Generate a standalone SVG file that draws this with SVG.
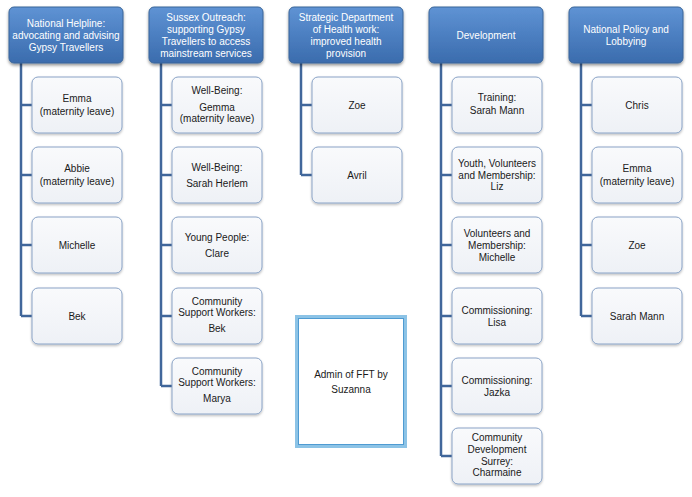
<svg xmlns="http://www.w3.org/2000/svg" width="692" height="497" viewBox="0 0 692 497">
<defs>
<linearGradient id="hg" x1="0" y1="0" x2="0" y2="1">
<stop offset="0" stop-color="#5f93d4"/>
<stop offset="0.5" stop-color="#4c7fc1"/>
<stop offset="1" stop-color="#3b6cad"/>
</linearGradient>
<linearGradient id="cg" x1="0" y1="0" x2="0" y2="1">
<stop offset="0" stop-color="#f9fafc"/>
<stop offset="1" stop-color="#eef1f6"/>
</linearGradient>
<filter id="hs" x="-10%" y="-10%" width="120%" height="130%">
<feDropShadow dx="0" dy="2" stdDeviation="1.5" flood-color="#000" flood-opacity="0.4"/>
</filter>
<filter id="cs" x="-10%" y="-10%" width="120%" height="130%">
<feDropShadow dx="0" dy="1.5" stdDeviation="1" flood-color="#000" flood-opacity="0.25"/>
</filter>
</defs>
<style>
.h{fill:url(#hg);stroke:#3a6599;stroke-width:1;filter:url(#hs)}
.c{fill:url(#cg);stroke:#8aa3c6;stroke-width:1;filter:url(#cs)}
.ht{font-family:"Liberation Sans",Arial,sans-serif;font-size:10px;fill:#ffffff;text-anchor:middle}
.ct{font-family:"Liberation Sans",Arial,sans-serif;font-size:10px;fill:#1a1a1a;text-anchor:middle}
.ln{fill:none;stroke:#41679b;stroke-width:2.5}
</style>
<rect width="692" height="497" fill="#ffffff"/>
<g id="connectors">
<path class="ln" d="M21 63V316M21 105H32M21 175H32M21 245H32M21 316H32"/>
<path class="ln" d="M161 63V386M161 105H172M161 175H172M161 245H172M161 316H172M161 386H172"/>
<path class="ln" d="M301 63V175M301 105H312M301 175H312"/>
<path class="ln" d="M441 63V456M441 105H452M441 175H452M441 245H452M441 316H452M441 386H452M441 456H452"/>
<path class="ln" d="M581 63V316M581 105H592M581 175H592M581 245H592M581 316H592"/>
</g>
<g id="h1"><rect class="h" x="9" y="7" width="114" height="56" rx="5"/>
<text class="ht" x="66" y="26.5">National Helpline:</text>
<text class="ht" x="66" y="38.5">advocating and advising</text>
<text class="ht" x="66" y="50.5">Gypsy Travellers</text></g>
<g id="h2"><rect class="h" x="149" y="7" width="114" height="56" rx="5"/>
<text class="ht" x="206" y="20.5">Sussex Outreach:</text>
<text class="ht" x="206" y="32.5">supporting Gypsy</text>
<text class="ht" x="206" y="44.5">Travellers to access</text>
<text class="ht" x="206" y="56.5">mainstream services</text></g>
<g id="h3"><rect class="h" x="289" y="7" width="114" height="56" rx="5"/>
<text class="ht" x="346" y="20.5">Strategic Department</text>
<text class="ht" x="346" y="32.5">of Health work:</text>
<text class="ht" x="346" y="44.5">improved health</text>
<text class="ht" x="346" y="56.5">provision</text></g>
<g id="h4"><rect class="h" x="429" y="7" width="114" height="56" rx="5"/>
<text class="ht" x="486" y="38.5">Development</text></g>
<g id="h5"><rect class="h" x="569" y="7" width="114" height="56" rx="5"/>
<text class="ht" x="626" y="32.5">National Policy and</text>
<text class="ht" x="626" y="44.5">Lobbying</text></g>

<g id="c1a"><rect class="c" x="32" y="77" width="90" height="56" rx="6"/>
<text class="ct" x="77" y="101.5">Emma</text><text class="ct" x="77" y="114.5">(maternity leave)</text></g>
<g id="c1b"><rect class="c" x="32" y="147" width="90" height="56" rx="6"/>
<text class="ct" x="77" y="171.5">Abbie</text><text class="ct" x="77" y="184.5">(maternity leave)</text></g>
<g id="c1c"><rect class="c" x="32" y="217" width="90" height="56" rx="6"/>
<text class="ct" x="77" y="248.5">Michelle</text></g>
<g id="c1d"><rect class="c" x="32" y="288" width="90" height="56" rx="6"/>
<text class="ct" x="77" y="319.5">Bek</text></g>

<g id="c2a"><rect class="c" x="172" y="77" width="90" height="56" rx="6"/>
<text class="ct" x="217" y="94">Well-Being:</text><text class="ct" x="217" y="111">Gemma</text><text class="ct" x="217" y="122">(maternity leave)</text></g>
<g id="c2b"><rect class="c" x="172" y="147" width="90" height="56" rx="6"/>
<text class="ct" x="217" y="170.5">Well-Being:</text><text class="ct" x="217" y="186.5">Sarah Herlem</text></g>
<g id="c2c"><rect class="c" x="172" y="217" width="90" height="56" rx="6"/>
<text class="ct" x="217" y="240.5">Young People:</text><text class="ct" x="217" y="256.5">Clare</text></g>
<g id="c2d"><rect class="c" x="172" y="288" width="90" height="56" rx="6"/>
<text class="ct" x="217" y="304.5">Community</text><text class="ct" x="217" y="315.5">Support Workers:</text><text class="ct" x="217" y="331.5">Bek</text></g>
<g id="c2e"><rect class="c" x="172" y="358" width="90" height="56" rx="6"/>
<text class="ct" x="217" y="374.5">Community</text><text class="ct" x="217" y="385.5">Support Workers:</text><text class="ct" x="217" y="401.5">Marya</text></g>

<g id="c3a"><rect class="c" x="312" y="77" width="90" height="56" rx="6"/>
<text class="ct" x="357" y="108.5">Zoe</text></g>
<g id="c3b"><rect class="c" x="312" y="147" width="90" height="56" rx="6"/>
<text class="ct" x="357" y="178.5">Avril</text></g>

<g id="c4a"><rect class="c" x="452" y="77" width="90" height="56" rx="6"/>
<text class="ct" x="497" y="101">Training:</text><text class="ct" x="497" y="114">Sarah Mann</text></g>
<g id="c4b"><rect class="c" x="452" y="147" width="90" height="56" rx="6"/>
<text class="ct" x="497" y="166.5">Youth, Volunteers</text><text class="ct" x="497" y="178.5">and Membership:</text><text class="ct" x="497" y="190">Liz</text></g>
<g id="c4c"><rect class="c" x="452" y="217" width="90" height="56" rx="6"/>
<text class="ct" x="497" y="236.5">Volunteers and</text><text class="ct" x="497" y="248.5">Membership:</text><text class="ct" x="497" y="260.5">Michelle</text></g>
<g id="c4d"><rect class="c" x="452" y="288" width="90" height="56" rx="6"/>
<text class="ct" x="497" y="313.5">Commissioning:</text><text class="ct" x="497" y="325.5">Lisa</text></g>
<g id="c4e"><rect class="c" x="452" y="358" width="90" height="56" rx="6"/>
<text class="ct" x="497" y="383.5">Commissioning:</text><text class="ct" x="497" y="395.5">Jazka</text></g>
<g id="c4f"><rect class="c" x="452" y="428" width="90" height="56" rx="6"/>
<text class="ct" x="497" y="440.5">Community</text><text class="ct" x="497" y="452.5">Development</text><text class="ct" x="497" y="464.5">Surrey:</text><text class="ct" x="497" y="476">Charmaine</text></g>

<g id="c5a"><rect class="c" x="592" y="77" width="90" height="56" rx="6"/>
<text class="ct" x="637" y="108.5">Chris</text></g>
<g id="c5b"><rect class="c" x="592" y="147" width="90" height="56" rx="6"/>
<text class="ct" x="637" y="171.5">Emma</text><text class="ct" x="637" y="184.5">(maternity leave)</text></g>
<g id="c5c"><rect class="c" x="592" y="217" width="90" height="56" rx="6"/>
<text class="ct" x="637" y="248.5">Zoe</text></g>
<g id="c5d"><rect class="c" x="592" y="288" width="90" height="56" rx="6"/>
<text class="ct" x="637" y="319.5">Sarah Mann</text></g>

<g id="admin"><rect x="296.5" y="316.5" width="109" height="130" fill="#ffffff" stroke="#8cc3e6" stroke-width="3"/>
<rect x="298.5" y="318.5" width="105" height="126" fill="none" stroke="#4f9bd2" stroke-width="1"/>
<text class="ct" x="351" y="377.5">Admin of FFT by</text><text class="ct" x="351" y="392.5">Suzanna</text></g>
</svg>
